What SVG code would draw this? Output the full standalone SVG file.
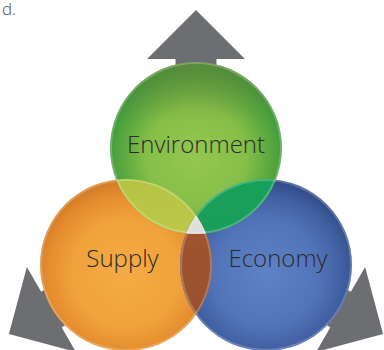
<svg xmlns="http://www.w3.org/2000/svg" width="384" height="350" viewBox="0 0 384 350">
<defs>
<style>
.arrow{fill:#6d6e71}
.lbl{font-family:"Open Sans","Liberation Sans",sans-serif;font-weight:300;fill:#2b2b2b;text-anchor:middle}
.rim{fill:none;stroke:#ffffff;stroke-opacity:0.22;stroke-width:2}
</style>
<radialGradient id="gG" cx="0.5" cy="0.55" r="0.52">
<stop offset="0" stop-color="#94c650"/>
<stop offset="0.55" stop-color="#86bf48"/>
<stop offset="0.85" stop-color="#57a63f"/>
<stop offset="1" stop-color="#3f9a3c"/>
</radialGradient>
<linearGradient id="gGtop" x1="0" y1="0" x2="0" y2="1">
<stop offset="0" stop-color="#6d7f3a" stop-opacity="0.55"/>
<stop offset="0.35" stop-color="#6d7f3a" stop-opacity="0"/>
</linearGradient>
<radialGradient id="gO" cx="0.5" cy="0.55" r="0.52">
<stop offset="0" stop-color="#f5ab44"/>
<stop offset="0.6" stop-color="#f0a23c"/>
<stop offset="0.88" stop-color="#e48c2e"/>
<stop offset="1" stop-color="#d67f28"/>
</radialGradient>
<radialGradient id="gB" cx="0.5" cy="0.55" r="0.52">
<stop offset="0" stop-color="#5e82c6"/>
<stop offset="0.6" stop-color="#5273b8"/>
<stop offset="0.88" stop-color="#3f5ea0"/>
<stop offset="1" stop-color="#344f8c"/>
</radialGradient>
<linearGradient id="gGO" x1="0" y1="0" x2="0" y2="1">
<stop offset="0" stop-color="#a3bd36"/>
<stop offset="1" stop-color="#bcc848"/>
</linearGradient>
<linearGradient id="gGB" x1="0" y1="0" x2="0" y2="1">
<stop offset="0" stop-color="#11a658"/>
<stop offset="1" stop-color="#1a9e5a"/>
</linearGradient>
<linearGradient id="gOB" x1="0" y1="0" x2="0" y2="1">
<stop offset="0" stop-color="#a5552e"/>
<stop offset="1" stop-color="#955030"/>
</linearGradient>
<radialGradient id="gT" cx="0.5" cy="0.6" r="0.6">
<stop offset="0" stop-color="#f0f0f0"/>
<stop offset="1" stop-color="#d2d2d2"/>
</radialGradient>
<clipPath id="cO"><circle cx="126" cy="265" r="86"/></clipPath>
<clipPath id="cB"><circle cx="266" cy="265" r="86"/></clipPath>
<polygon id="arr" points="196,10 245,59 216.5,59 216.5,130 175.5,130 175.5,59 147,59"/>
</defs>
<text x="2" y="15" font-family="'Open Sans','Liberation Sans',sans-serif" font-weight="300" font-size="17" fill="#555555">d.</text>
<g id="connectors">
<use href="#arr" class="arrow"/>
<use href="#arr" class="arrow" transform="rotate(-120 196 226)"/>
<use href="#arr" class="arrow" transform="rotate(120 196 226)"/>
</g>
<g id="supply">
<circle cx="126" cy="265" r="86" fill="url(#gO)"/>
</g>
<g id="economy">
<circle cx="266" cy="265" r="86" fill="url(#gB)"/>
</g>
<g id="environment">
<circle cx="196" cy="148" r="86" fill="url(#gG)"/>
<circle cx="196" cy="148" r="86" fill="url(#gGtop)"/>
</g>
<g id="overlaps">
<circle cx="196" cy="148" r="86" fill="url(#gGO)" clip-path="url(#cO)"/>
<circle cx="196" cy="148" r="86" fill="url(#gGB)" clip-path="url(#cB)"/>
<circle cx="126" cy="265" r="86" fill="url(#gOB)" clip-path="url(#cB)"/>
<g clip-path="url(#cO)"><circle cx="196" cy="148" r="86" fill="url(#gT)" clip-path="url(#cB)"/></g>
<circle class="rim" cx="126" cy="265" r="85"/>
<circle class="rim" cx="266" cy="265" r="85"/>
<circle class="rim" cx="196" cy="148" r="85"/>
</g>
<g id="labels">
<text class="lbl" x="196" y="153" font-size="24">Environment</text>
<text class="lbl" x="122.5" y="267" font-size="24">Supply</text>
<text class="lbl" x="278" y="267" font-size="24">Economy</text>
</g>
</svg>
